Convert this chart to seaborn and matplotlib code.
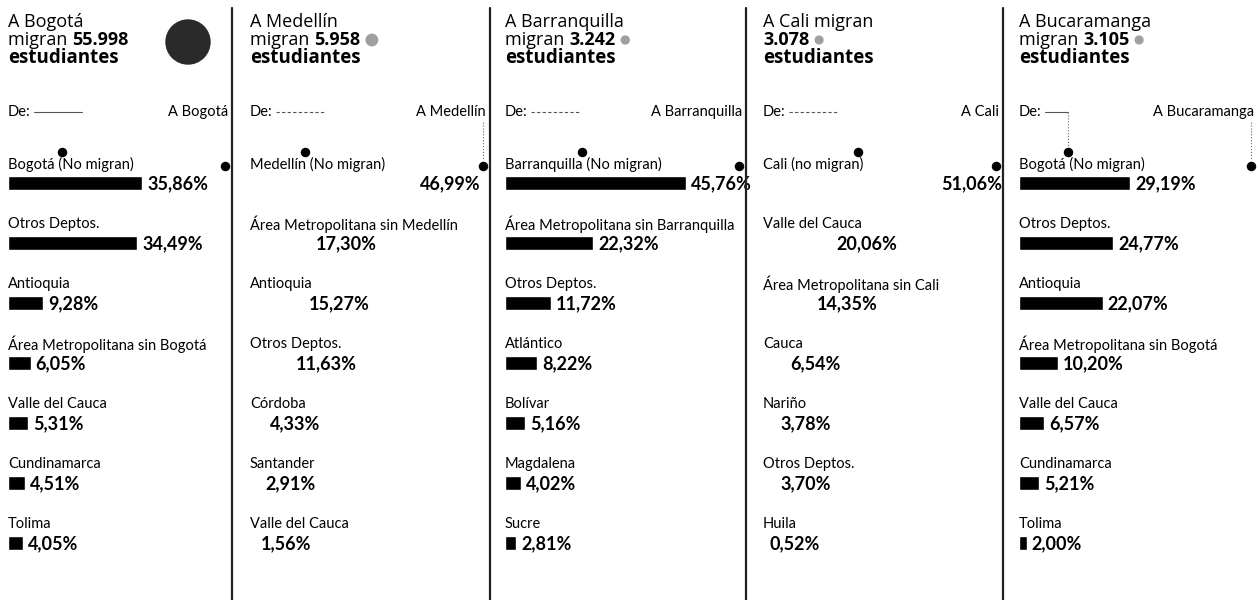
import matplotlib
matplotlib.use("Agg")
import matplotlib.pyplot as plt
import seaborn as sns
from matplotlib.lines import Line2D
from matplotlib.patches import Ellipse

W, H = 1257, 600

# --- datos ---
ciudades = ["Bogotá", "Medellín", "Barranquilla", "Cali", "Bucaramanga"]
migrantes_txt = ["55.998", "5.958", "3.242", "3.078", "3.105"]
migrantes = [55998, 5958, 3242, 3078, 3105]

origen_bogota = ["Bogotá (No migran)", "Otros Deptos.", "Antioquia",
                 "Área Metropolitana sin Bogotá", "Valle del Cauca",
                 "Cundinamarca", "Tolima"]
pct_bogota = [35.86, 34.49, 9.28, 6.05, 5.31, 4.51, 4.05]

origen_medellin = ["Medellín (No migran)", "Área Metropolitana sin Medellín",
                   "Antioquia", "Otros Deptos.", "Córdoba", "Santander",
                   "Valle del Cauca"]
pct_medellin = [46.99, 17.30, 15.27, 11.63, 4.33, 2.91, 1.56]

origen_barranquilla = ["Barranquilla (No migran)",
                       "Área Metropolitana sin Barranquilla", "Otros Deptos.",
                       "Atlántico", "Bolívar", "Magdalena", "Sucre"]
pct_barranquilla = [45.76, 22.32, 11.72, 8.22, 5.16, 4.02, 2.81]

origen_cali = ["Cali (no migran)", "Valle del Cauca",
               "Área Metropolitana sin Cali", "Cauca", "Nariño",
               "Otros Deptos.", "Huila"]
pct_cali = [51.06, 20.06, 14.35, 6.54, 3.78, 3.70, 0.52]

origen_bucaramanga = ["Bogotá (No migran)", "Otros Deptos.", "Antioquia",
                      "Área Metropolitana sin Bogotá", "Valle del Cauca",
                      "Cundinamarca", "Tolima"]
pct_bucaramanga = [29.19, 24.77, 22.07, 10.20, 6.57, 5.21, 2.00]

origenes = [origen_bogota, origen_medellin, origen_barranquilla,
            origen_cali, origen_bucaramanga]
porcentajes = [pct_bogota, pct_medellin, pct_barranquilla,
               pct_cali, pct_bucaramanga]

# --- layout (pixels) ---
left_px = [8, 250, 505, 763, 1019]
sep_px = [232, 490, 746, 1003]
right_px = [229, 487, 743, 1000, 1255]
px_per_pct = [3.75, 3.5, 3.95, 3.4, 3.8]
bar_colors = ["black", "white", "black", "white", "black"]
dot_left_px = [62, 305, 582, 858, 1068]
row0_px, row_step = 183, 60

TITLE_FONT = ["Open Sans", "DejaVu Sans"]
LABEL_FONT = ["Lato", "DejaVu Sans"]

sns.set_theme(style="white")
plt.rcParams["font.family"] = TITLE_FONT
plt.rcParams["text.color"] = "black"

fig = plt.figure(figsize=(W / 100, H / 100), dpi=100)
fig.patch.set_facecolor("white")
renderer = fig.canvas.get_renderer()


def fx(x):
    return x / W


def fy(y):
    return 1 - y / H


for p in range(5):
    L, R, sc = left_px[p], right_px[p], px_per_pct[p]
    ax = fig.add_axes([fx(L), 0, (R - L) / W, 1])
    sns.barplot(x=porcentajes[p], y=origenes[p], orient="h", ax=ax,
                color=bar_colors[p], width=0.22, saturation=1)
    ax.set_xlim(0, (R - L) / sc)
    ax.set_ylim((H - row0_px) / row_step, -row0_px / row_step)
    ax.set_axis_off()

    for i, (lab, v) in enumerate(zip(origenes[p], porcentajes[p])):
        ax.text(0, i - 0.31, lab, ha="left", va="center", fontsize=10.5,
                family=LABEL_FONT, color="black")
        ax.text(v + 5 / sc, i + 0.02, f"{v:.2f}".replace(".", ",") + "%",
                ha="left", va="center", fontsize=13, fontweight="bold",
                family=LABEL_FONT, color="black", clip_on=False)

    # title
    ciudad = ciudades[p]
    if ciudad == "Cali":
        fig.text(fx(L), fy(22), "A Cali migran", fontsize=13, va="center")
        t2 = fig.text(fx(L), fy(40), migrantes_txt[p], fontsize=13,
                      fontweight="bold", va="center")
        x_end = t2.get_window_extent(renderer).x1
    else:
        fig.text(fx(L), fy(22), f"A {ciudad}", fontsize=13, va="center")
        t1 = fig.text(fx(L), fy(40), "migran ", fontsize=13, va="center")
        x1 = t1.get_window_extent(renderer).x1
        t2 = fig.text(x1 / W, fy(40), migrantes_txt[p], fontsize=13,
                      fontweight="bold", va="center")
        x_end = t2.get_window_extent(renderer).x1
    fig.text(fx(L), fy(58), "estudiantes", fontsize=13.5, fontweight="bold",
             va="center")

    # globe sized by migrants
    r = 22 * (migrantes[p] / migrantes[0]) ** 0.6
    gx = x_end + 6 + r if p else 188
    gy = 42 if p == 0 else 40
    fig.add_artist(Ellipse((gx / W, fy(gy)), 2 * r / W, 2 * r / H,
                           transform=fig.transFigure,
                           color="#2a2a2a" if p == 0 else "#a0a0a0"))

    # De: ---- A ciudad
    fig.text(fx(L), fy(112), "De:", fontsize=10.5, family=LABEL_FONT,
             va="center")
    dl = dot_left_px[p]
    line_end = dl if p == 4 else L + 74
    fig.add_artist(Line2D([fx(L + 26), fx(line_end)], [fy(112), fy(112)],
                          color="#555555", lw=0.8,
                          linestyle="-" if p in (0, 4) else (0, (3, 2))))
    fig.text(fx(R - 1), fy(112), f"A {ciudad}", fontsize=10.5,
             family=LABEL_FONT, va="center", ha="right")
    if p in (1, 4):
        fig.add_artist(Line2D([fx(R - 4)] * 2, [fy(122), fy(160)],
                              color="#666666", lw=0.8, linestyle=":"))
    if p == 4:
        fig.add_artist(Line2D([fx(dl)] * 2, [fy(112), fy(146)],
                              color="#666666", lw=0.8, linestyle=":"))
    ax.scatter([(dl - L) / sc, (R - 4 - L) / sc],
               [(152 - row0_px) / row_step, (166 - row0_px) / row_step],
               s=34, color="black", zorder=5, clip_on=False)

# separators
for s in sep_px:
    fig.add_artist(Line2D([fx(s)] * 2, [fy(8), fy(600)], color="#222222",
                          lw=1.6))

fig.savefig("out.png", dpi=100, facecolor="white")
